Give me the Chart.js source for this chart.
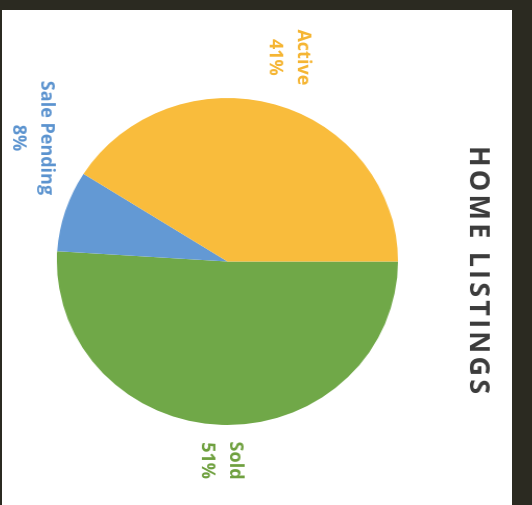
<!DOCTYPE html>
<html>
<head>
<meta charset="utf-8">
<script src="https://cdn.jsdelivr.net/npm/chart.js@4.4.0/dist/chart.umd.min.js"></script>
<style>
  html, body { margin: 0; padding: 0; background: #fff; }
  #frame {
    position: absolute; left: 0; top: 0;
    width: 510px; height: 495px;
    border-top: 10px solid #2b2a21;
    border-right: 20px solid #2b2a21;
    border-left: 2px solid #2b2a21;
    background: #fff;
    overflow: hidden;
  }
  /* the chart is drawn upright, then turned a quarter clockwise like the picture */
  #rot {
    position: absolute; left: 0; top: 0;
    width: 495px; height: 510px;
    transform-origin: 0 0;
    transform: translate(522.2px, 0px) scale(1.043, 1) rotate(90deg);
  }
</style>
</head>
<body>
<div id="frame">
  <div id="rot"><canvas id="pie" width="495" height="510"></canvas></div>
</div>
<script>
const categories = ['Sold', 'Sale Pending', 'Active'];
const shares = [51, 8, 41];
const chartTitle = 'HOME LISTINGS';

const sliceColors = ['#70a848', '#6399d4', '#f9bc3c'];
const labelColors = ['#6fa03f', '#5b93cf', '#f5b533'];
const labelNudge = { 'Sale Pending': { deg: 15.5, gap: 10 } };
const lineGap = 27;

function drawSpaced(ctx, text, cx, cy, spacing) {
    const chars = [...text];
    const widths = chars.map(c => ctx.measureText(c).width);
    const total = widths.reduce((a, b) => a + b, 0) + spacing * (chars.length - 1);
    let x = cx - total / 2;
    ctx.textAlign = 'left';
    chars.forEach((c, i) => {
        ctx.fillText(c, x, cy);
        x += widths[i] + spacing;
    });
}

const outsideLabels = {
    id: 'outsideLabels',
    afterDatasetsDraw(chart) {
        const ctx = chart.ctx;
        const meta = chart.getDatasetMeta(0);
        ctx.save();
        ctx.font = 'bold 18px "Open Sans"';
        ctx.textAlign = 'center';
        ctx.textBaseline = 'middle';
        meta.data.forEach((arc, i) => {
            const p = arc.getProps(['x', 'y', 'startAngle', 'endAngle', 'outerRadius'], true);
            const nudge = labelNudge[categories[i]] || {};
            const mid = (p.startAngle + p.endAngle) / 2 + (nudge.deg || 0) * Math.PI / 180;
            const lines = [categories[i], shares[i] + '%'];
            const w = Math.max(...lines.map(t => ctx.measureText(t).width)) / 2;
            const h = (lineGap * (lines.length - 1) + 18) / 2;
            const cx = Math.cos(mid), cy = Math.sin(mid);
            const d = p.outerRadius + (nudge.gap ?? 16) + Math.abs(cx) * w + Math.abs(cy) * h;
            const x = p.x + cx * d, y = p.y + cy * d;
            ctx.fillStyle = labelColors[i];
            lines.forEach((t, k) => ctx.fillText(t, x, y + (k - (lines.length - 1) / 2) * lineGap));
        });

        ctx.font = 'bold 27px "Open Sans"';
        ctx.fillStyle = '#3c3c3c';
        ctx.textBaseline = 'middle';
        drawSpaced(ctx, chartTitle, 260, 44, 3.2);
        ctx.restore();
    }
};

new Chart(document.getElementById('pie').getContext('2d'), {
    type: 'pie',
    data: {
        labels: categories,
        datasets: [{
            data: shares,
            backgroundColor: sliceColors,
            borderWidth: 0,
            radius: 163.5
        }]
    },
    options: {
        responsive: false,
        devicePixelRatio: 1,
        animation: false,
        layout: { padding: { left: 88, right: 80, top: 118, bottom: 59 } },
        plugins: {
            legend: { display: false },
            tooltip: { enabled: false },
            title: { display: false }
        }
    },
    plugins: [outsideLabels]
});
</script>
</body>
</html>
